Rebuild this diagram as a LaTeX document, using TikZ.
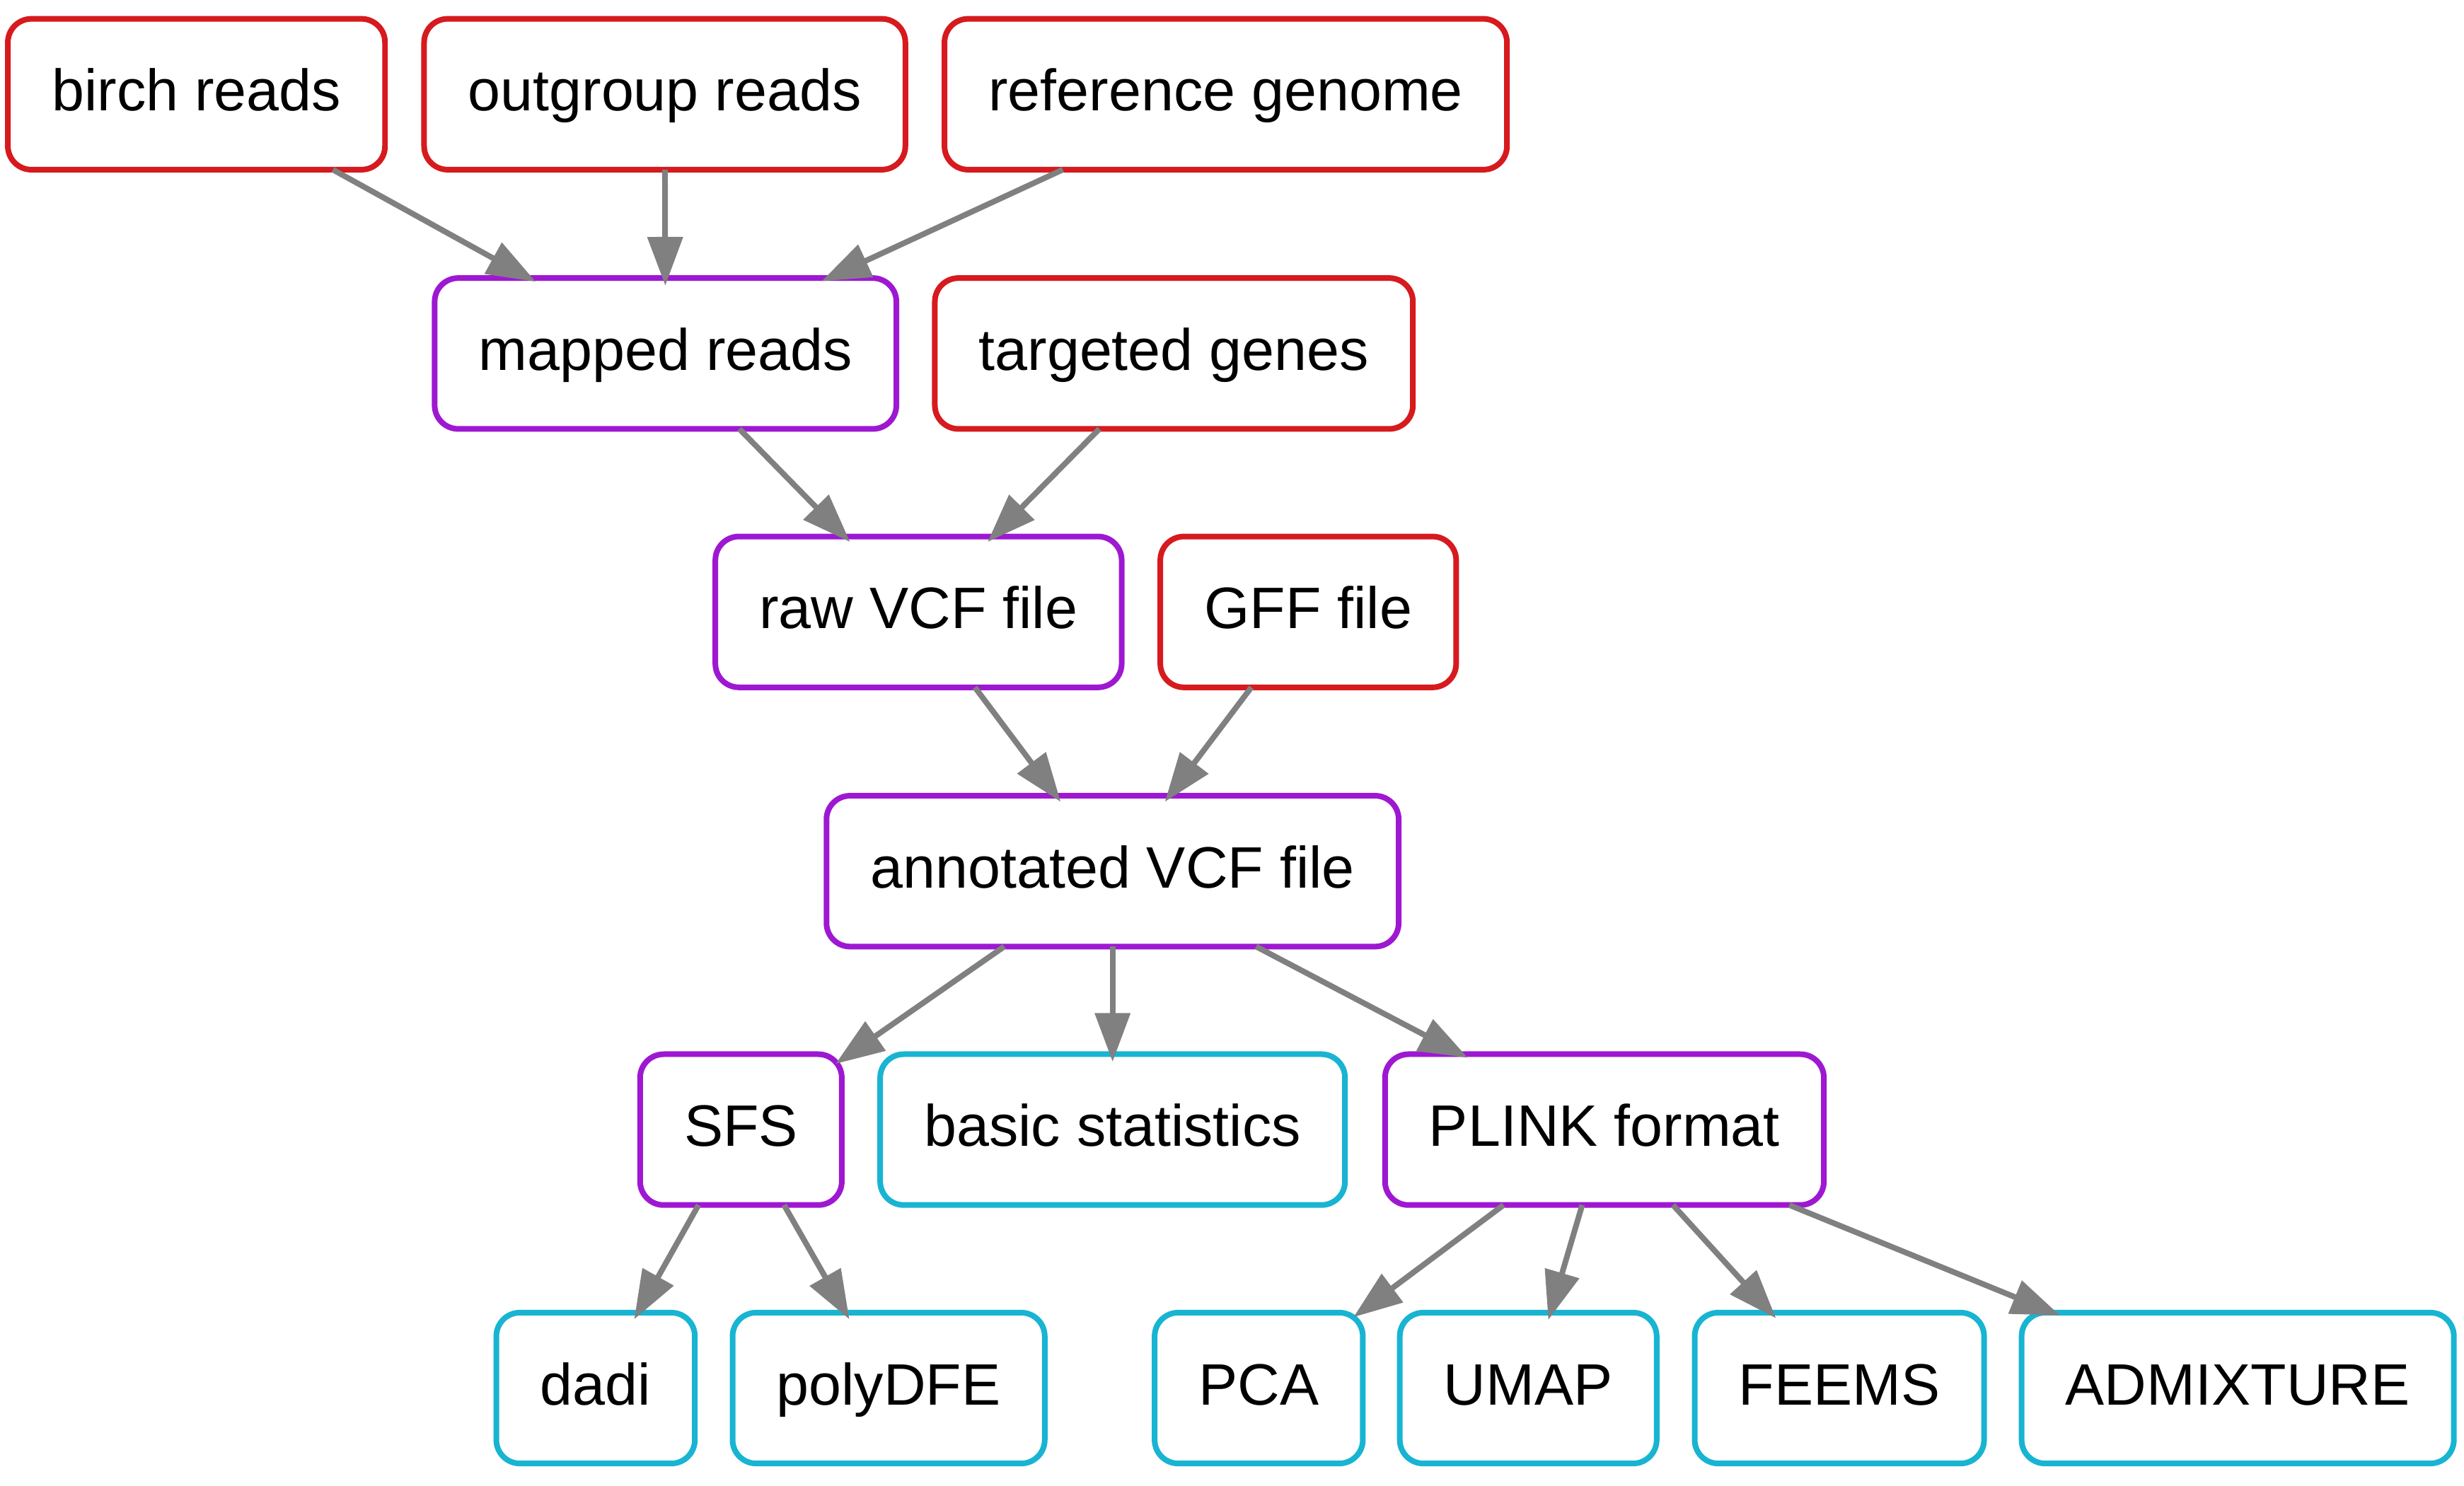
\documentclass[tikz,border=0pt]{standalone}
\usepackage{fontspec}
\setmainfont{Liberation Sans}
\usetikzlibrary{arrows.meta}
\definecolor{inred}{RGB}{214,26,30}
\definecolor{mpurple}{RGB}{158,24,210}
\definecolor{outcyan}{RGB}{24,180,210}
\definecolor{edgegray}{RGB}{128,128,128}
\tikzset{
  box/.style={draw, line width=1.8pt, rounded corners=7.5pt, fill=white,
    inner xsep=14pt, inner ysep=0pt, outer sep=0pt, minimum height=48pt,
    font=\fontsize{18.6}{22}\selectfont, text height=14pt, text depth=3.4pt},
  inbox/.style={box, draw=inred},
  midbox/.style={box, draw=mpurple},
  outbox/.style={box, draw=outcyan},
  flow/.style={draw=edgegray, line width=1.8pt, shorten >=-2.4pt,
    -{Triangle[length=15.5pt,width=11pt]}, color=edgegray}
}
\begin{document}
\begin{tikzpicture}[x=0.5pt,y=-0.5pt]
\useasboundingbox (0,0) rectangle (1568,945.4);
% row 1
\node[inbox] (birch) at (125,60) {birch reads};
\node[inbox] (outgroup) at (423,60) {outgroup reads};
\node[inbox] (refgen) at (780,60) {reference genome};
% row 2
\node[midbox] (mapped) at (423.5,225) {mapped reads};
\node[inbox] (targeted) at (747,225) {targeted genes};
% row 3
\node[midbox] (raw) at (584.5,389.5) {raw VCF file};
\node[inbox] (gff) at (832.5,389.5) {GFF file};
% row 4
\node[midbox] (annot) at (708,554.5) {annotated VCF file};
% row 5
\node[midbox] (sfs) at (471.5,719) {SFS};
\node[outbox] (basic) at (708,719) {basic statistics};
\node[midbox] (plink) at (1021,719) {PLINK format};
% row 6
\node[outbox] (dadi) at (379,883.5) {dadi};
\node[outbox] (polydfe) at (565.5,883.5) {polyDFE};
\node[outbox] (pca) at (801,883.5) {PCA};
\node[outbox] (umap) at (972.5,883.5) {UMAP};
\node[outbox] (feems) at (1170.5,883.5) {FEEMS};
\node[outbox] (admix) at (1424,883.5) {ADMIXTURE};
% edges
\draw[flow] (birch) -- (mapped);
\draw[flow] (outgroup) -- (mapped);
\draw[flow] (refgen) -- (mapped);
\draw[flow] (mapped) -- (raw);
\draw[flow] (targeted) -- (raw);
\draw[flow] (raw) -- (annot);
\draw[flow] (gff) -- (annot);
\draw[flow] (annot) -- (sfs);
\draw[flow] (annot) -- (basic);
\draw[flow] (annot) -- (plink);
\draw[flow] (sfs) -- (dadi);
\draw[flow] (sfs) -- (polydfe);
\draw[flow] (plink) -- (pca);
\draw[flow] (plink) -- (umap);
\draw[flow] (plink) -- (feems);
\draw[flow] (plink) -- (admix);
\end{tikzpicture}
\end{document}
